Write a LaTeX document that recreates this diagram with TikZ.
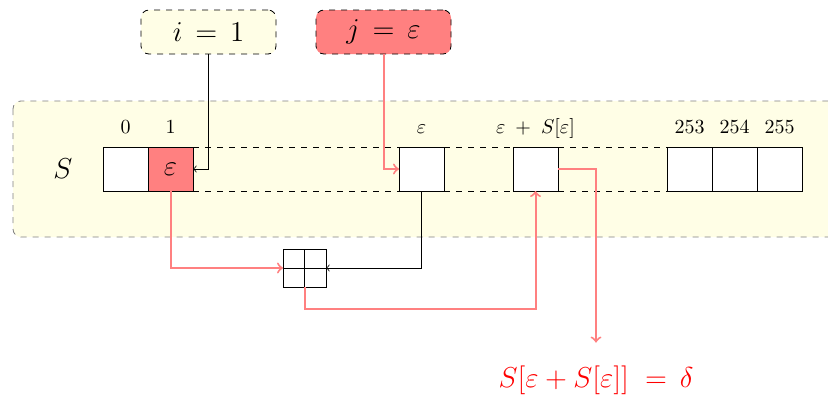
\documentclass[tikz,border=0pt]{standalone}
\usepackage{amsmath}
\usetikzlibrary{positioning,calc}
\tikzset{
  cell/.style={draw,line width=0.5pt,fill=white,minimum width=22.5pt,minimum height=22pt,inner sep=0pt,outer sep=0pt},
  idx/.style={anchor=base},
  varbox/.style={draw,dashed,rounded corners=4pt,minimum width=67.5pt,minimum height=22pt,font=\Large},
  redarrow/.style={->,red!50,line width=1pt},
  blkarrow/.style={->,line width=0.4pt},
}
\begin{document}
\begin{tikzpicture}[x=0.5pt,y=-0.5pt]
\useasboundingbox (0,0) rectangle (828,396);
% state array S
\draw[dashed,gray,fill=yellow!10,rounded corners=4pt] (13,101) rectangle (870,237);
\node[font=\Large] (lS) at (63,169) {$S$};
\node[cell] (c0) at (125.5,169) {};
\node[cell,fill=red!50,right=0pt of c0,font=\Large] (c1) {$\varepsilon$};
\node[cell] (ce) at (421.5,169) {};
\node[cell] (cs) at (535.5,169) {};
\node[cell] (c253) at (689.5,169) {};
\node[cell,right=0pt of c253] (c254) {};
\node[cell,right=0pt of c254] (c255) {};
\foreach \a/\b in {c1/ce,ce/cs,cs/c253}{
  \draw[dashed] (\a.north east) -- (\b.north west);
  \draw[dashed] (\a.south east) -- (\b.south west);
}
% indices
\foreach \c/\t in {c0/0,c1/1,ce/$\varepsilon$,cs/$\varepsilon\;+\;S[\varepsilon]$,c253/253,c254/254,c255/255}
  \path (\c.north) ++(0,-14) node[idx] {\t};
% i and j
\node[varbox,fill=yellow!10] (vi) at (208.5,32) {$i \,=\, 1$};
\node[varbox,fill=red!50] (vj) at (383.5,32) {$j \,=\, \varepsilon$};
% swap
\node[draw,line width=0.5pt,minimum width=21.5pt,minimum height=19pt,inner sep=0pt,outer sep=0pt] (g) at (304.5,268) {};
\draw[line width=0.5pt] (g.north) -- (g.south) (g.west) -- (g.east);
\node[red,font=\Large] (res) at (596,380) {$S[\varepsilon + S[\varepsilon]]\;=\,\delta$};
% arrows
\draw[blkarrow] (vi.south) |- (c1.east);
\draw[redarrow] (vj.south) |- (ce.west);
\draw[redarrow] (c1.south) |- (g.west);
\draw[blkarrow] (ce.south) |- (g.east);
\draw[redarrow] (g.south) -- ++(0,22) -| (cs.south);
\draw[redarrow] (cs.east) -| ([yshift=8pt]res.north);
\end{tikzpicture}
\end{document}
